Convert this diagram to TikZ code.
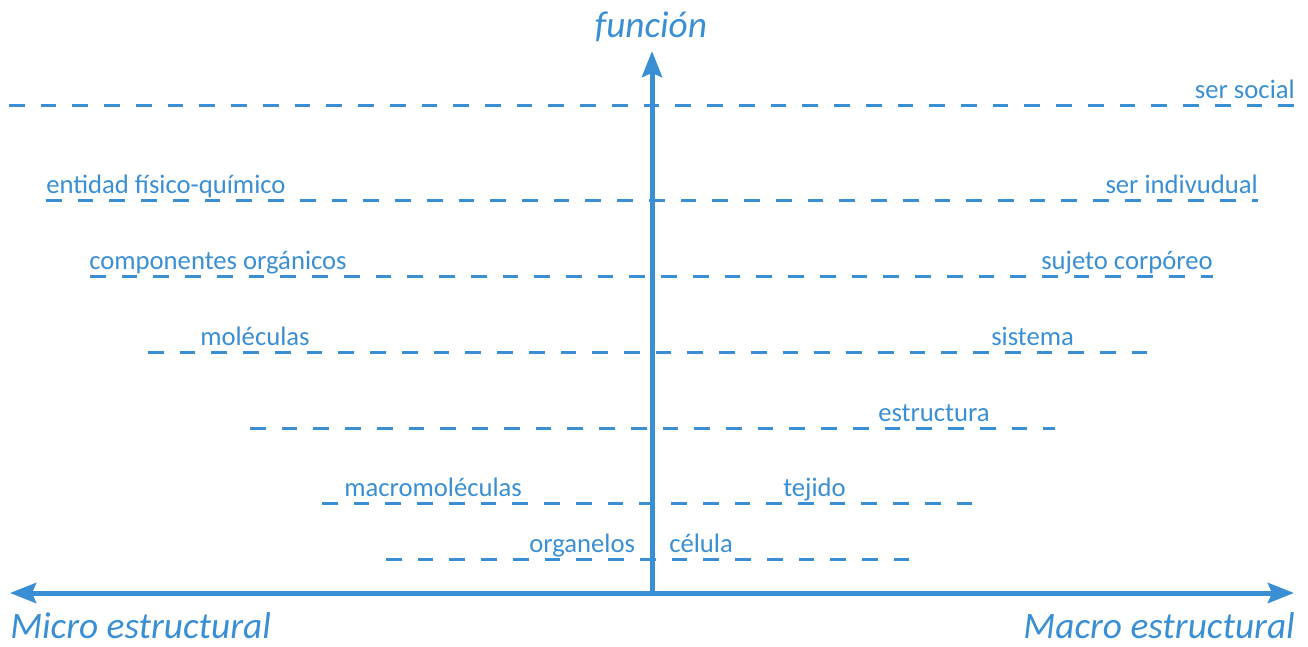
\documentclass[tikz,border=0pt]{standalone}
\usepackage{fontspec}
\setmainfont{Carlito}
\usetikzlibrary{arrows.meta}
\definecolor{axisblue}{HTML}{3A8FD4}
\tikzset{
  >={Stealth[length=19.5pt, width=15pt, inset=3pt]},
  axis/.style    = {draw=axisblue, line width=3.75pt},
  level/.style   = {draw=axisblue, line width=2.25pt, dash pattern=on 11.8pt off 12pt},
  lbl/.style     = {text=axisblue, inner sep=0pt, font=\fontsize{20}{24}\selectfont},
  axlbl/.style   = {text=axisblue, inner sep=0pt, font=\fontsize{28}{33}\selectfont\itshape},
}
\begin{document}
\begin{tikzpicture}[x=0.75pt, y=-0.75pt]
  \useasboundingbox (0,0) rectangle (1308,646);
  % dashed levels: name / y / left end / right end
  \foreach \n/\y/\xa/\xb in {a/105/9/1297, b/200/46/1258, c/276/90/1213, d/352/148/1157,
                             e/428/250/1055, f/503/322/984, g/559/386/918} {
    \coordinate (\n l) at (\xa,\y);
    \coordinate (\n r) at (\xb,\y);
    \draw[level] (\n l) -- (\n r);
  }
  % level labels
  \node[lbl, anchor=base east] (social)   at (1295,98)  {ser social};
  \node[lbl, anchor=base west] (entidad)  at (46,193)   {entidad físico-químico};
  \node[lbl, anchor=base east] (indiv)    at (1258,193) {ser indivudual};
  \node[lbl, anchor=base west] (organic)  at (89,269)   {componentes orgánicos};
  \node[lbl, anchor=base east] (sujeto)   at (1213,269) {sujeto corpóreo};
  \node[lbl, anchor=base west] (molec)    at (200,345)  {moléculas};
  \node[lbl, anchor=base west] (sistema)  at (991,345)  {sistema};
  \node[lbl, anchor=base west] (estruct)  at (878,421)  {estructura};
  \node[lbl, anchor=base west] (macromol) at (344,496)  {macromoléculas};
  \node[lbl, anchor=base west] (tejido)   at (783,496)  {tejido};
  \node[lbl, anchor=base west] (organel)  at (529,552)  {organelos};
  \node[lbl, anchor=base west] (celula)   at (669,552)  {célula};
  % axes
  \coordinate (west)   at (10,593);
  \coordinate (east)   at (1294,593);
  \coordinate (origin) at (652,593);
  \coordinate (top)    at (652,51);
  \draw[axis, <->] (west) -- (east);
  \draw[axis, ->] (origin) -- (top);
  \node[axlbl] (func)  at (651,27)  {función};
  \node[axlbl, anchor=base west] (micro) at (10,638)  {Micro estructural};
  \node[axlbl, anchor=base east] (macro) at (1295,638) {Macro estructural};
\end{tikzpicture}
\end{document}
